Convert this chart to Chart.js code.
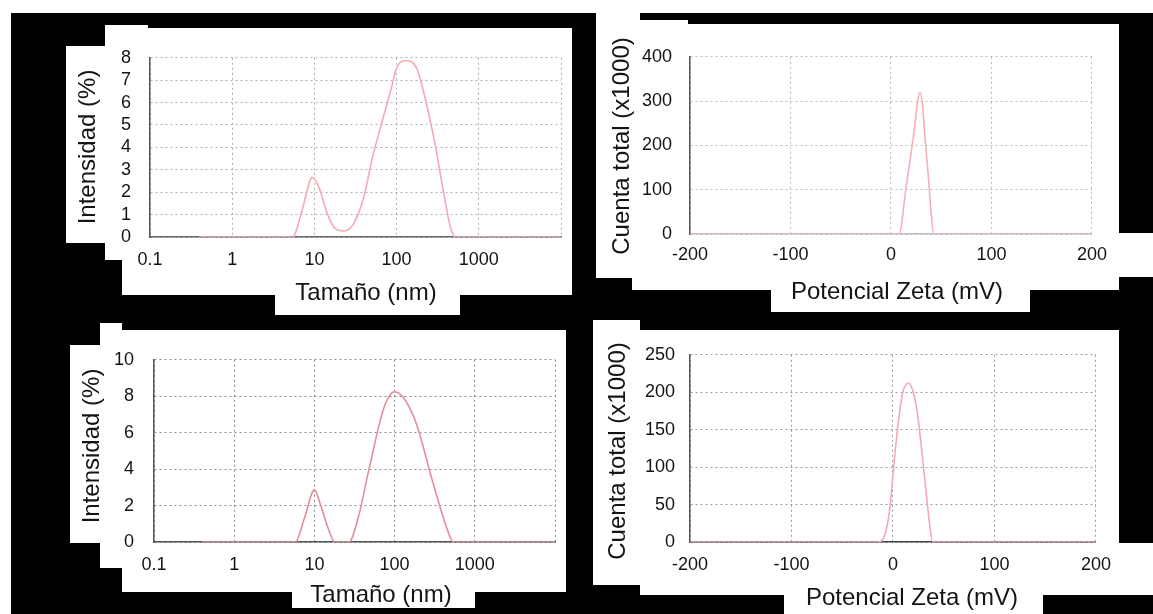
<!DOCTYPE html>
<html>
<head>
<meta charset="utf-8">
<script src="https://cdn.jsdelivr.net/npm/chart.js@4.4.1/dist/chart.umd.min.js"></script>
<style>
    body { margin: 0; background: #fff; }
    #stage { position: relative; width: 1153px; height: 614px; background: #000; overflow: hidden; }
    .patch { position: absolute; background: #fff; }
    canvas { position: absolute; }
</style>
</head>
<body>
<div id="stage"></div>

<script>
// Size distribution (DLS) - top sample
const sizeTop = [0.4, 1, 3, 5.4, 7.1, 8.7, 9.4, 11.4, 14.5, 18, 23, 30, 40, 50, 66, 85, 100, 129, 175, 224, 295, 371, 455, 520, 1000, 10000];
const intensityTop = [0, 0, 0, 0, 1.2, 2.45, 2.66, 2.2, 1.0, 0.37, 0.27, 0.6, 1.8, 3.44, 5.1, 6.55, 7.55, 7.87, 7.55, 6.15, 4.1, 2.05, 0.4, 0, 0, 0];

// Size distribution (DLS) - bottom sample
const sizeBottom = [0.4, 1, 3, 5.8, 7.5, 10, 12, 15, 18, 27, 35, 48, 74, 100, 130, 190, 290, 470, 540, 1000, 10000];
const intensityBottom = [0, 0, 0, 0, 1.3, 2.86, 2.0, 0.7, 0, 0, 1.3, 4.0, 7.4, 8.25, 7.9, 6.4, 3.5, 0.5, 0, 0, 0];

// Zeta potential - top sample
const zetaTop = [-200, -100, 0, 8, 15, 22, 29, 36, 43, 100, 200];
const countsTop = [0, 0, 0, 0, 105, 215, 320, 160, 0, 0, 0];

// Zeta potential - bottom sample
const zetaBottom = [-200, -100, -15, -8, -3, 0, 4.4, 9.7, 15.5, 20, 24, 31, 36, 39, 100, 200];
const countsBottom = [0, 0, 0, 10, 46, 90, 150, 200, 212, 200, 172, 88, 25, 0, 0, 0];

// Tick labels
const sizeTicks = [0.1, 1, 10, 100, 1000, 10000];
const sizeTickLabels = ['0.1', '1', '10', '100', '1000', ''];
const zetaTicks = [-200, -100, 0, 100, 200];

// White paper areas behind each panel [left, top, right, bottom]
const patches = [
    [0, 0, 1153, 13], [0, 0, 11, 614],
    [66, 46, 105, 243], [105, 25, 148, 260], [122, 260, 148, 295], [148, 28, 572, 295], [275, 295, 460, 315],
    [596, 13, 640, 278], [632, 20, 688, 290], [688, 24, 1119, 290], [771, 290, 1030, 312], [1119, 233, 1153, 277],
    [70, 345, 100, 543], [100, 323, 122, 568], [122, 330, 566, 592], [292, 592, 475, 608],
    [593, 320, 640, 585], [640, 330, 1119, 595], [1119, 543, 1153, 595], [784, 595, 1043, 614]
];

const FONT = "'Liberation Sans', Arial, sans-serif";
const TEXT = '#141414';
const stage = document.getElementById('stage');

patches.forEach(p => {
    const d = document.createElement('div');
    d.className = 'patch';
    d.style.left = p[0] + 'px';
    d.style.top = p[1] + 'px';
    d.style.width = (p[2] - p[0]) + 'px';
    d.style.height = (p[3] - p[1]) + 'px';
    stage.appendChild(d);
});

// Axis titles sit a bit off-centre in the original figure, so they are drawn here
const axisTitles = {
    id: 'axisTitles',
    afterDraw(chart, args, opts) {
        const ctx = chart.ctx;
        ctx.save();
        ctx.font = '24px ' + FONT;
        ctx.fillStyle = TEXT;
        ctx.textAlign = 'center';
        ctx.textBaseline = 'middle';
        ctx.fillText(opts.xText, opts.xAt[0], opts.xAt[1]);
        ctx.translate(opts.yAt[0], opts.yAt[1]);
        ctx.rotate(-Math.PI / 2);
        ctx.fillText(opts.yText, 0, 0);
        ctx.restore();
    }
};

function addCanvas(left, top, width, height) {
    const c = document.createElement('canvas');
    c.width = width;
    c.height = height;
    c.style.left = left + 'px';
    c.style.top = top + 'px';
    stage.appendChild(c);
    return c.getContext('2d');
}

function drawPanel(p) {
    const ctx = addCanvas(p.left, p.top, p.width, p.height);
    const xScale = p.log ? {
        type: 'logarithmic',
        min: 0.1,
        max: 10000,
        afterBuildTicks: axis => { axis.ticks = sizeTicks.map(v => ({ value: v })); },
        ticks: { callback: (v, i) => sizeTickLabels[i] }
    } : {
        type: 'linear',
        min: -200,
        max: 200,
        afterBuildTicks: axis => { axis.ticks = zetaTicks.map(v => ({ value: v })); },
        ticks: { callback: v => String(v) }
    };
    Object.assign(xScale.ticks, { font: { family: FONT, size: 18 }, color: TEXT, padding: p.xPad, maxRotation: 0, autoSkip: false });
    xScale.grid = { color: p.gridColor, drawTicks: false, lineWidth: 1 };
    xScale.border = { display: true, color: p.xAxisColor, width: 1.5, dash: [2, 3] };
    xScale.afterFit = axis => { axis.height = p.xHeight; };

    new Chart(ctx, {
        type: 'line',
        data: {
            datasets: [{
                data: p.xs.map((x, i) => ({ x: x, y: p.ys[i] })),
                borderColor: p.lineColor,
                borderWidth: 1.6,
                pointRadius: 0,
                cubicInterpolationMode: 'monotone',
                fill: false
            }]
        },
        options: {
            responsive: false,
            animation: false,
            devicePixelRatio: 1,
            layout: { padding: { top: 14, right: p.rightPad, left: 0, bottom: 0 } },
            plugins: {
                legend: { display: false },
                tooltip: { enabled: false },
                axisTitles: {
                    xText: p.xTitle,
                    yText: p.yTitle,
                    xAt: [p.xTitleAt[0] - p.left, p.xTitleAt[1] - p.top],
                    yAt: [p.yTitleAt[0] - p.left, p.yTitleAt[1] - p.top]
                }
            },
            scales: {
                x: xScale,
                y: {
                    min: 0,
                    max: p.yMax,
                    ticks: { stepSize: p.yStep, autoSkip: false, font: { family: FONT, size: 18 }, color: TEXT, padding: p.yPad },
                    grid: { color: p.gridColor, drawTicks: false, lineWidth: 1 },
                    border: { display: true, color: '#555', width: 1.5, dash: [2, 3] },
                    afterFit: axis => { axis.width = p.yWidth; }
                }
            }
        },
        plugins: [axisTitles]
    });
}

drawPanel({
    left: 66, top: 28, width: 507, height: 279, rightPad: 10,
    log: true, xs: sizeTop, ys: intensityTop, yMax: 8, yStep: 1,
    xTitle: 'Tamaño (nm)', yTitle: 'Intensidad (%)',
    xTitleAt: [366, 293], yTitleAt: [88, 147],
    yWidth: 84, xHeight: 70, yPad: 19, xPad: 12,
    lineColor: '#f4aab2', gridColor: 'rgba(110,110,110,0.55)', xAxisColor: '#666'
});

drawPanel({
    left: 596, top: 28, width: 521, height: 278, rightPad: 20,
    log: false, xs: zetaTop, ys: countsTop, yMax: 400, yStep: 100,
    xTitle: 'Potencial Zeta (mV)', yTitle: 'Cuenta total (x1000)',
    xTitleAt: [897, 292], yTitleAt: [622, 146],
    yWidth: 94, xHeight: 72, yPad: 18, xPad: 10,
    lineColor: '#f5b0b7', gridColor: 'rgba(120,120,120,0.5)', xAxisColor: '#bbb'
});

drawPanel({
    left: 70, top: 329, width: 497, height: 280, rightPad: 10,
    log: true, xs: sizeBottom, ys: intensityBottom, yMax: 10, yStep: 2,
    xTitle: 'Tamaño (nm)', yTitle: 'Intensidad (%)',
    xTitleAt: [381, 595], yTitleAt: [92, 446],
    yWidth: 84, xHeight: 67, yPad: 20, xPad: 12,
    lineColor: '#e58d98', gridColor: 'rgba(80,80,80,0.65)', xAxisColor: '#555'
});

drawPanel({
    left: 593, top: 329, width: 530, height: 283, rightPad: 20,
    log: false, xs: zetaBottom, ys: countsBottom, yMax: 250, yStep: 50,
    xTitle: 'Potencial Zeta (mV)', yTitle: 'Cuenta total (x1000)',
    xTitleAt: [912, 598], yTitleAt: [618, 451],
    yWidth: 97, xHeight: 70, yPad: 15, xPad: 12,
    lineColor: '#f2aab2', gridColor: 'rgba(90,90,90,0.6)', xAxisColor: '#444'
});
</script>
</body>
</html>
